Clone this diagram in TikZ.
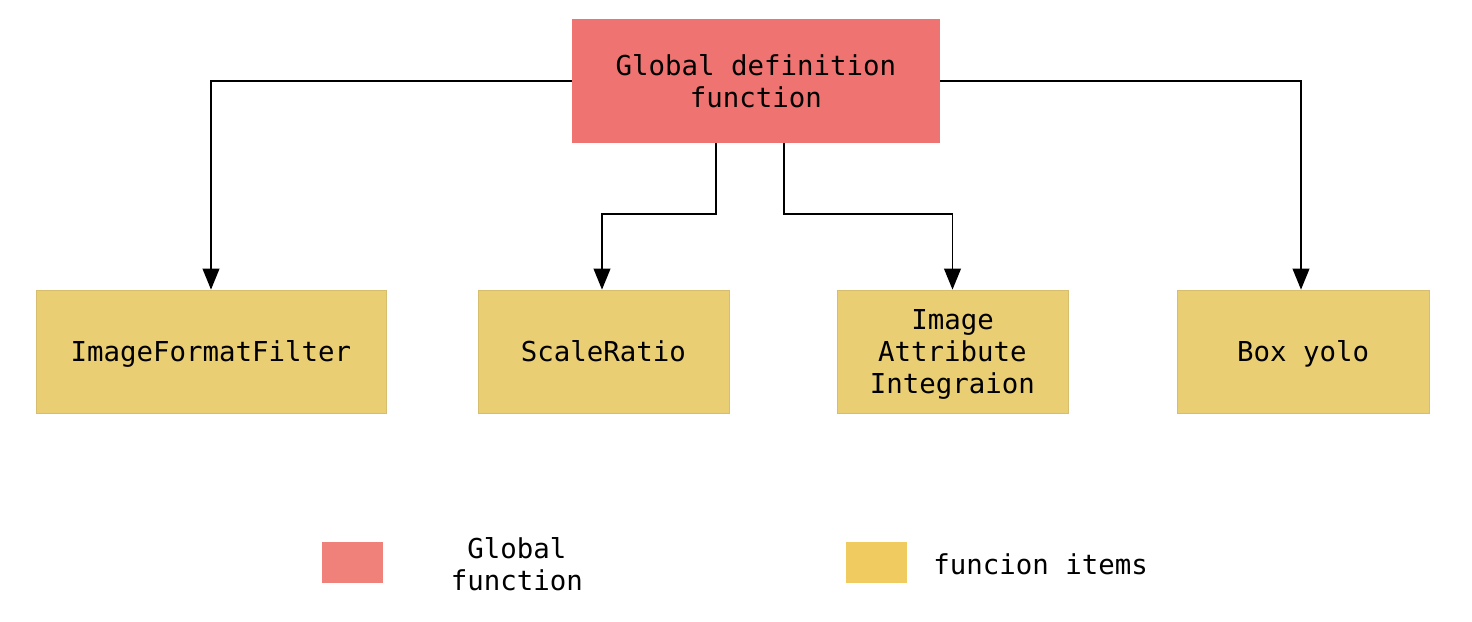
\documentclass[tikz,border=0pt]{standalone}
\usepackage{fontspec}
\setmonofont{DejaVu Sans Mono}
\usetikzlibrary{arrows.meta,positioning}
\definecolor{topred}{RGB}{239,115,112}
\definecolor{itemyellow}{RGB}{233,206,116}
\definecolor{itemedge}{RGB}{214,190,110}
\definecolor{legred}{RGB}{240,128,122}
\definecolor{legyellow}{RGB}{240,204,96}

\begin{document}
\begin{tikzpicture}[x=0.02cm,y=-0.02cm,
  font=\ttfamily\fontsize{15.6}{18}\selectfont,
  globalbox/.style={rectangle,fill=topred,minimum width=7.36cm,minimum height=2.48cm,align=center,inner sep=0,text depth=0pt},
  itembox/.style={rectangle,fill=itemyellow,draw=itemedge,line width=0.4pt,minimum height=2.46cm,align=center,inner sep=0,text depth=0pt},
  legbox/.style={rectangle,minimum width=1.22cm,minimum height=0.82cm,inner sep=0},
  arr/.style={-{Triangle[width=9.5pt,length=12pt]},line width=1.1pt}]
\useasboundingbox (0,0) rectangle (1472,622);
       \node [globalbox] (glob) at (756,81) {Global definition\\function};
       \node [itembox,minimum width=7.0cm] (fmt) at (211,351.5) {ImageFormatFilter};
       \node [itembox,minimum width=5.02cm] (scale) at (603.5,351.5) {ScaleRatio};
       \node [itembox,minimum width=4.62cm] (attr) at (952.5,351.5) {Image\\Attribute\\Integraion};
       \node [itembox,minimum width=5.04cm] (yolo) at (1303,351.5) {Box yolo};
% connectors
\draw [arr] (glob.west) -| (fmt.north);
\draw [arr] (glob.east) -| ([xshift=-0.04cm]yolo.north);
\draw [arr] ([xshift=-0.8cm]glob.south) -- ++(0,71) -| ([xshift=-0.03cm]scale.north);
\draw [arr] ([xshift=0.56cm]glob.south) -- ++(0,71) -| (attr.north);
% legend
       \node [legbox,fill=legred] (lgred) at (352.5,562.5) {};
       \node [align=center] (lgredtxt) at (517,564) {Global\\function};
       \node [legbox,fill=legyellow] (lgyel) at (876,562.5) {};
       \node [anchor=west,inner sep=0] (lgyeltxt) at (933,564) {funcion items};
\end{tikzpicture}
\end{document}
